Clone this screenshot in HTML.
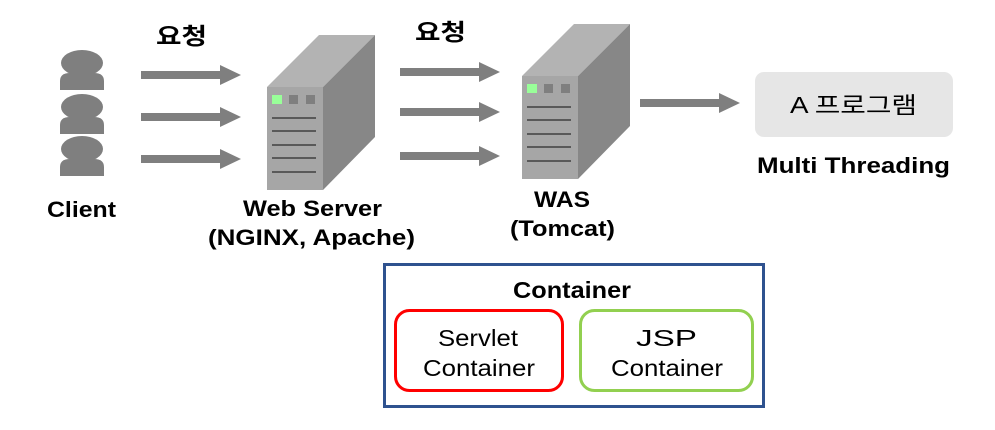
<!DOCTYPE html>
<html><head><meta charset="utf-8"><style>
html,body{margin:0;padding:0;background:#fff;width:995px;height:430px;overflow:hidden}
text{font-family:"Liberation Sans","Noto Sans CJK KR",sans-serif}
</style></head><body>
<svg width="995" height="430" xmlns="http://www.w3.org/2000/svg">
<defs>
<g id="arr"><rect x="0" y="-4" width="80" height="8" fill="#7f7f7f"/><polygon points="79,-10 100,0 79,10" fill="#7f7f7f"/></g>
<g id="person"><ellipse cx="82" cy="0" rx="21" ry="13" fill="#7f7f7f"/><path d="M60,27 V18 Q60,10 70,10 H94 Q104,10 104,18 V27 Z" fill="#7f7f7f"/></g>
<g id="srv">
<polygon points="0,0 52,-52 108,-52 56,0" fill="#b3b3b3"/>
<polygon points="56,0 108,-52 108,50 56,103" fill="#878787"/>
<rect x="0" y="0" width="56" height="103" fill="#a6a6a6"/>
<rect x="5" y="8" width="10" height="9" fill="#99ff99"/>
<rect x="22" y="8" width="9" height="9" fill="#7f7f7f"/>
<rect x="39" y="8" width="9" height="9" fill="#7f7f7f"/>
<g fill="#595959"><rect x="5" y="30" width="44" height="2"/><rect x="5" y="43" width="44" height="2"/><rect x="5" y="57" width="44" height="2"/><rect x="5" y="70" width="44" height="2"/><rect x="5" y="84" width="44" height="2"/></g>
</g>
</defs>
<use href="#person" y="63"/>
<use href="#person" y="107"/>
<use href="#person" y="149"/>
<text x="47" y="217" font-size="22" font-weight="bold" textLength="69" lengthAdjust="spacingAndGlyphs">Client</text>
<text x="156" y="44" font-size="23" font-weight="bold" textLength="51" lengthAdjust="spacingAndGlyphs">요청</text>
<text x="415" y="40" font-size="23" font-weight="bold" textLength="51" lengthAdjust="spacingAndGlyphs">요청</text>
<use href="#arr" x="141" y="75"/>
<use href="#arr" x="141" y="117"/>
<use href="#arr" x="141" y="159"/>
<use href="#srv" x="267" y="87"/>
<text x="243" y="216" font-size="22" font-weight="bold" textLength="139" lengthAdjust="spacingAndGlyphs">Web Server</text>
<text x="208" y="245" font-size="22" font-weight="bold" textLength="207" lengthAdjust="spacingAndGlyphs">(NGINX, Apache)</text>
<use href="#arr" x="400" y="72"/>
<use href="#arr" x="400" y="112"/>
<use href="#arr" x="400" y="156"/>
<use href="#srv" x="522" y="76"/>
<text x="534" y="207" font-size="22" font-weight="bold" textLength="56" lengthAdjust="spacingAndGlyphs">WAS</text>
<text x="510" y="236" font-size="22" font-weight="bold" textLength="105" lengthAdjust="spacingAndGlyphs">(Tomcat)</text>
<use href="#arr" x="640" y="103"/>
<rect x="755" y="72" width="198" height="65" rx="9" fill="#e6e6e6"/>
<text x="790" y="113" font-size="23" textLength="127" lengthAdjust="spacingAndGlyphs">A 프로그램</text>
<text x="757" y="173" font-size="22" font-weight="bold" textLength="193" lengthAdjust="spacingAndGlyphs">Multi Threading</text>
<rect x="384.5" y="264.5" width="379" height="142" fill="none" stroke="#2f528f" stroke-width="3"/>
<text x="513" y="298" font-size="23" font-weight="bold" textLength="118" lengthAdjust="spacingAndGlyphs">Container</text>
<rect x="395.5" y="310.5" width="167" height="80" rx="14" fill="none" stroke="#ff0000" stroke-width="3"/>
<text x="438" y="346" font-size="23" textLength="80" lengthAdjust="spacingAndGlyphs">Servlet</text>
<text x="423" y="376" font-size="23" textLength="112" lengthAdjust="spacingAndGlyphs">Container</text>
<rect x="580.5" y="310.5" width="172" height="80" rx="14" fill="none" stroke="#92d050" stroke-width="3"/>
<text x="636" y="346" font-size="23" textLength="61" lengthAdjust="spacingAndGlyphs">JSP</text>
<text x="611" y="376" font-size="23" textLength="112" lengthAdjust="spacingAndGlyphs">Container</text>
</svg>
</body></html>
